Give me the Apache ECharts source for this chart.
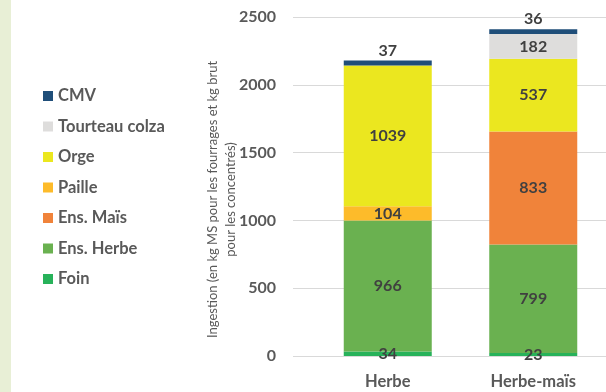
<!DOCTYPE html>
<html><head><meta charset="utf-8">
<script src="https://cdn.jsdelivr.net/npm/echarts@6/dist/echarts.min.js"></script>
<style>html,body{margin:0;padding:0;background:#fff}#c{width:606px;height:392px}</style>
</head><body><div id="c"></div>
<script>
const categories = ['Herbe', 'Herbe-maïs'];
const seriesNames = ['Foin', 'Ens. Herbe', 'Ens. Maïs', 'Paille', 'Orge', 'Tourteau colza', 'CMV'];
const foin = [34, 23];
const ensHerbe = [966, 799];
const ensMais = [0, 833];
const paille = [104, 0];
const orge = [1039, 537];
const tourteau = [0, 182];
const cmv = [37, 36];
const yTicks = [0, 500, 1000, 1500, 2000, 2500];
const colors = ['#27b25a', '#6ab150', '#f0833a', '#fdbb2a', '#ebe71f', '#dedddc', '#1f4e79'];

const values = [foin, ensHerbe, ensMais, paille, orge, tourteau, cmv];
const FONT = 'Lato';
const series = values.map((v, i) => ({
  name: seriesNames[i],
  type: 'bar',
  stack: 'total',
  xAxisIndex: 1, yAxisIndex: 1,
  barWidth: 88,
  data: v,
  itemStyle: { color: colors[i] },
  label: {
    show: true,
    position: i === 6 ? 'top' : 'inside',
    distance: 2,
    color: '#404040',
    fontFamily: FONT, fontWeight: 'bold', fontSize: 16,
    formatter: p => p.value ? String(p.value) : ''
  }
}));

const chart = echarts.init(document.getElementById('c'), null, { renderer: 'canvas' });
chart.setOption({
  animation: false,
  textStyle: { fontFamily: FONT },
  graphic: [{ type: 'rect', left: 0, top: 0, shape: { width: 11, height: 392 }, style: { fill: '#e8efd6' } }],
  legend: {
    orient: 'vertical', left: 43, top: 86, padding: 0,
    icon: 'rect', itemWidth: 10, itemHeight: 10, itemGap: 10.5,
    data: seriesNames.slice().reverse(),
    textStyle: { fontFamily: FONT, fontWeight: 'bold', fontSize: 16.5, color: '#595959', lineHeight: 20 }
  },
  grid: [
    { left: 293, right: 0, top: 17, bottom: 36 },
    { left: 315, right: -9, top: 17, bottom: 36 }
  ],
  xAxis: [
    { gridIndex: 0, type: 'value', show: false, min: 0, max: 1 },
    { gridIndex: 1, type: 'category', data: categories,
      axisLine: { show: false }, axisTick: { show: false },
      axisLabel: { fontFamily: FONT, fontWeight: 'bold', fontSize: 16.5, color: '#595959', margin: 17 } }
  ],
  yAxis: [
    { gridIndex: 0, type: 'value', min: yTicks[0], max: yTicks[yTicks.length - 1], interval: 500,
      axisLine: { show: false }, axisTick: { show: false },
      splitLine: { lineStyle: { color: '#d9d9d9', width: 1 } },
      axisLabel: { fontFamily: FONT, fontWeight: 'bold', fontSize: 16, color: '#595959', margin: 17,
        formatter: v => String(v) },
      name: 'Ingestion (en kg MS pour les fourrages et kg brut\npour les concentrés)',
      nameLocation: 'middle', nameGap: 53, nameRotate: 90, nameMoveOverlap: false,
      nameTextStyle: { fontFamily: FONT, fontSize: 13, color: '#595959', lineHeight: 18, align: 'center',
        padding: [0, 26, 0, 0] }
    },
    { gridIndex: 1, type: 'value', min: 0, max: 2500, show: false, splitLine: { show: false } }
  ],
  series: series
});
</script></body></html>
